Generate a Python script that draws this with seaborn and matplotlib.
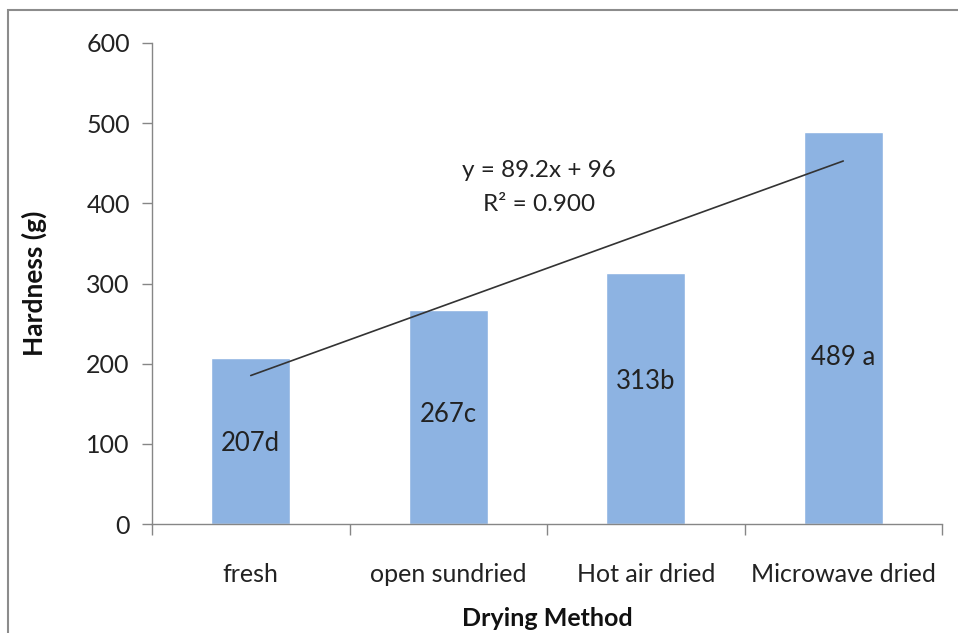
import matplotlib
matplotlib.use("Agg")
import matplotlib.pyplot as plt
import matplotlib.patches as mpatches
import numpy as np
import pandas as pd
import seaborn as sns

# Hardness by drying method
methods = ["fresh", "open sundried", "Hot air dried", "Microwave dried"]
hardness = [207, 267, 313, 489]
bar_labels = ["207d", "267c", "313b", "489 a"]
yticks = [0, 100, 200, 300, 400, 500, 600]

# Linear trend (x = 1..4)
slope = 89.2
intercept = 96
r_squared = 0.900

# vertical placement of the in-bar labels (data units)
label_heights = [101, 136, 178, 208]

sns.set_theme(style="white")
plt.rcParams["font.family"] = ["Lato", "DejaVu Sans"]

df = pd.DataFrame({"method": methods, "hardness": hardness})

fig = plt.figure(figsize=(9.58, 6.33), dpi=100)
ax = fig.add_axes([152 / 958, 1 - 524 / 633, (942 - 152) / 958, (524 - 43) / 633])

sns.barplot(data=df, x="method", y="hardness", color="#8db3e2", width=0.4,
            saturation=1, ax=ax)

# trend line across the category centres
xs = np.arange(len(methods))
trend = slope * (xs + 1) + intercept
ax.plot([xs[0], xs[-1]], [trend[0], trend[-1]], color="#333333", lw=1.2)

ax.text(1.46, 441, f"y = {slope}x + {intercept}", ha="center", va="center",
        fontsize=17.5, color="#222222")
ax.text(1.46, 399, f"R² = {r_squared:.3f}", ha="center", va="center",
        fontsize=17.5, color="#222222")

for i, (lab, h) in enumerate(zip(bar_labels, label_heights)):
    ax.text(i, h, lab, ha="center", va="center", fontsize=18.5, color="#222222")

ax.set_xlim(-0.5, len(methods) - 0.5)
ax.set_ylim(0, 600)
ax.set_yticks(yticks)
ax.set_yticklabels([str(t) for t in yticks])

# tick marks at category boundaries, labels at centres
ax.set_xticks(xs)
ax.set_xticklabels(methods)
ax.set_xticks(np.arange(-0.5, len(methods)), minor=True)
ax.tick_params(axis="x", which="major", length=0, pad=28, labelsize=18,
               labelcolor="#222222")
ax.tick_params(axis="x", which="minor", length=8, width=1, color="#868686",
               direction="out", bottom=True)
ax.tick_params(axis="y", which="major", length=7, width=1, color="#868686",
               direction="out", left=True, pad=9, labelsize=18,
               labelcolor="#222222")

for side in ["top", "right"]:
    ax.spines[side].set_visible(False)
for side in ["left", "bottom"]:
    ax.spines[side].set_color("#868686")
    ax.spines[side].set_linewidth(1)

ax.set_xlabel("Drying Method", fontsize=18, fontweight="bold", color="#111111",
              labelpad=15)
ax.set_ylabel("Hardness (g)", fontsize=19, fontweight="bold", color="#111111",
              labelpad=28)

# outer chart frame
frame = mpatches.Rectangle((8 / 958, -0.1), 1.1, 1 - 10 / 633 + 0.1,
                           transform=fig.transFigure, fill=False,
                           edgecolor="#8c8c8c", lw=1.5, clip_on=False)
fig.patches.append(frame)

fig.savefig("out.png", dpi=100)
